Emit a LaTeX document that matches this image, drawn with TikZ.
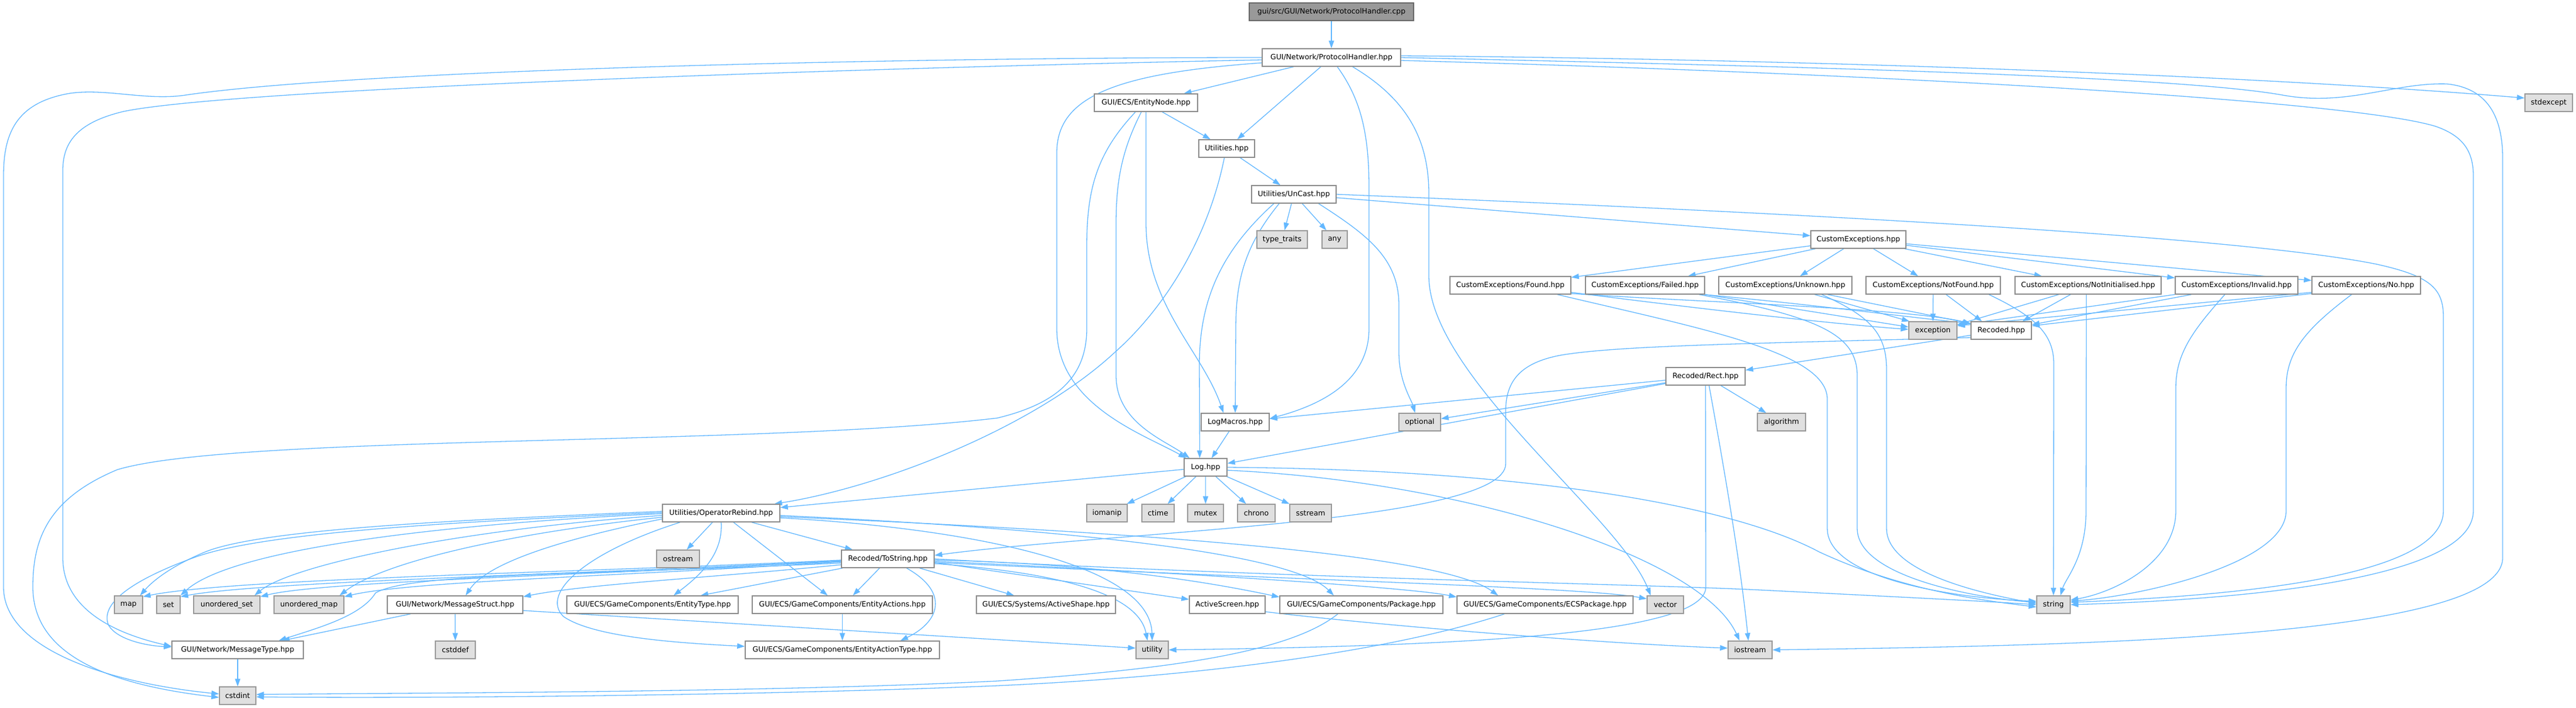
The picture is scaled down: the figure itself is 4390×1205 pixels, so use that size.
\documentclass[tikz,border=0pt]{standalone}
\usepackage{fontspec}
\setmainfont{DejaVu Sans}
\usetikzlibrary{arrows.meta}
\pgfdeclarelayer{bg}
\pgfdeclarelayer{edges}
\pgfsetlayers{bg,edges,main}
\definecolor{edgec}{HTML}{63B8FF}
\definecolor{boxb}{HTML}{8C8C8C}
\definecolor{extf}{HTML}{E0E0E0}
\definecolor{extb}{HTML}{999999}
\definecolor{rootf}{HTML}{999999}
\definecolor{rootb}{HTML}{666666}
\tikzset{
  nd/.style={rectangle, draw=boxb, line width=1.4pt, fill=white, minimum height=30pt, inner sep=0pt, font=\fontsize{12.4pt}{14pt}\selectfont, text=black},
  ext/.style={nd, fill=extf, draw=extb},
  root/.style={nd, fill=rootf, draw=rootb},
  dep/.style={draw=edgec, line width=1.3pt, -{Triangle[length=13pt,width=9pt]}},
}
\begin{document}
\begin{tikzpicture}[x=1pt,y=-1pt]
\begin{pgfonlayer}{bg}
\fill[white] (0,0) rectangle (4390,1205);
\end{pgfonlayer}
\useasboundingbox (0,0) rectangle (4390,1205);
% nodes
\node[root,minimum width=280pt] (cpp) at (2269,20) {gui/src/GUI/Network/ProtocolHandler.cpp};
\node[nd,minimum width=236pt] (ph) at (2269,98) {GUI/Network/ProtocolHandler.hpp};
\node[ext,minimum width=81pt] (stdexcept) at (4343.5,175) {stdexcept};
\node[nd,minimum width=176pt] (entitynode) at (1953,175) {GUI/ECS/EntityNode.hpp};
\node[nd,minimum width=95pt] (utilities) at (2090.5,253) {Utilities.hpp};
\node[nd,minimum width=144pt] (uncast) at (2205,331) {Utilities/UnCast.hpp};
\node[ext,minimum width=86pt] (typetraits) at (2185,408) {type\_traits};
\node[ext,minimum width=43pt] (any) at (2274.5,408) {any};
\node[nd,minimum width=162pt] (ce) at (3167,408) {CustomExceptions.hpp};
\node[nd,minimum width=206pt] (found) at (2574,486) {CustomExceptions/Found.hpp};
\node[nd,minimum width=203pt] (failed) at (2803.5,486) {CustomExceptions/Failed.hpp};
\node[nd,minimum width=227pt] (unknown) at (3042.5,486) {CustomExceptions/Unknown.hpp};
\node[nd,minimum width=229pt] (notfound) at (3294.5,486) {CustomExceptions/NotFound.hpp};
\node[nd,minimum width=249pt] (notinit) at (3558.5,486) {CustomExceptions/NotInitialised.hpp};
\node[nd,minimum width=209pt] (invalid) at (3811.5,486) {CustomExceptions/Invalid.hpp};
\node[nd,minimum width=185pt] (no) at (4032.5,486) {CustomExceptions/No.hpp};
\node[ext,minimum width=82pt] (exception) at (3294,563) {exception};
\node[nd,minimum width=103pt] (recoded) at (3410.5,563) {Recoded.hpp};
\node[nd,minimum width=135pt] (rect) at (2906.5,641) {Recoded/Rect.hpp};
\node[ext,minimum width=82pt] (algorithm) at (3036,719) {algorithm};
\node[nd,minimum width=116pt] (logmacros) at (2105,719) {LogMacros.hpp};
\node[ext,minimum width=71pt] (optional) at (2419.5,719) {optional};
\node[nd,minimum width=73pt] (log) at (2054.5,796) {Log.hpp};
\node[nd,minimum width=200pt] (oprebind) at (1229,874) {Utilities/OperatorRebind.hpp};
\node[ext,minimum width=73pt] (ostream) at (1155.5,952) {ostream};
\node[ext,minimum width=69pt] (iomanip) at (1886.5,874) {iomanip};
\node[ext,minimum width=55pt] (ctime) at (1973.5,874) {ctime};
\node[ext,minimum width=61pt] (mutex) at (2054.5,874) {mutex};
\node[ext,minimum width=64pt] (chrono) at (2141,874) {chrono};
\node[ext,minimum width=71pt] (sstream) at (2233.5,874) {sstream};
\node[nd,minimum width=158pt] (tostring) at (1513,952) {Recoded/ToString.hpp};
\node[ext,minimum width=48pt] (map) at (219,1030) {map};
\node[ext,minimum width=40pt] (set) at (287,1030) {set};
\node[ext,minimum width=113pt] (uset) at (386.5,1030) {unordered\_set};
\node[ext,minimum width=119pt] (umap) at (526.5,1030) {unordered\_map};
\node[nd,minimum width=231pt] (msgstruct) at (775.5,1030) {GUI/Network/MessageStruct.hpp};
\node[nd,minimum width=292pt] (entitytype) at (1112,1030) {GUI/ECS/GameComponents/EntityType.hpp};
\node[nd,minimum width=307pt] (entityactions) at (1435.5,1030) {GUI/ECS/GameComponents/EntityActions.hpp};
\node[nd,minimum width=237pt] (activeshape) at (1782.5,1030) {GUI/ECS/Systems/ActiveShape.hpp};
\node[nd,minimum width=129pt] (activescreen) at (2091.5,1030) {ActiveScreen.hpp};
\node[nd,minimum width=278pt] (package) at (2320,1030) {GUI/ECS/GameComponents/Package.hpp};
\node[nd,minimum width=300pt] (ecspackage) at (2633,1030) {GUI/ECS/GameComponents/ECSPackage.hpp};
\node[ext,minimum width=62pt] (vector) at (2838,1030) {vector};
\node[ext,minimum width=57pt] (string) at (3499.5,1030) {string};
\node[nd,minimum width=224pt] (msgtype) at (405,1107) {GUI/Network/MessageType.hpp};
\node[ext,minimum width=68pt] (cstddef) at (776,1107) {cstddef};
\node[nd,minimum width=331pt] (entityactiontype) at (1435.5,1107) {GUI/ECS/GameComponents/EntityActionType.hpp};
\node[ext,minimum width=55pt] (utility) at (1963.5,1107) {utility};
\node[ext,minimum width=75pt] (iostream) at (2982.5,1107) {iostream};
\node[ext,minimum width=62pt] (cstdint) at (405,1185) {cstdint};
% edges
\begin{pgfonlayer}{edges}
\draw[dep] (cpp) -- (ph);
% ProtocolHandler.hpp
\draw[dep] (ph) -- (entitynode);
\draw[dep] (ph) -- (utilities);
\draw[dep] ([yshift=-9pt]ph.west) .. controls (1900,125) and (1801,165) .. (1801,260) -- (1801,560) .. controls (1801,690) and (1950,740) .. ([xshift=4pt]log.north west);
\draw[dep] ([xshift=10pt]ph.south) .. controls (2320,170) and (2333,230) .. (2333,320) -- (2333,560) .. controls (2333,650) and (2250,690) .. ([yshift=6pt]logmacros.east);
\draw[dep] ([xshift=36pt]ph.south) .. controls (2400,170) and (2435,240) .. (2435,330) -- (2435,470) .. controls (2435,640) and (2760,880) .. ([xshift=-25pt]vector.north);
\draw[dep] ([yshift=3pt]ph.east) .. controls (3000,100) and (3800,125) .. ([yshift=8pt]stdexcept.west);
\draw[dep] (ph.east) .. controls (3000,112) and (3700,128) .. (3890,162) .. controls (4000,182) and (4080,140) .. (4170,143) .. controls (4240,150) and (4265,200) .. (4265,270) -- (4265,950) .. controls (4265,1090) and (3500,1100) .. (iostream.east);
\draw[dep] ([yshift=-5pt]ph.east) .. controls (3200,125) and (4000,170) .. (4150,215) .. controls (4200,232) and (4215,260) .. (4215,300) -- (4215,870) .. controls (4215,990) and (3800,1022) .. (string.east);
\draw[dep] ([yshift=-4pt]ph.west) .. controls (1500,115) and (400,150) .. (210,190) .. controls (135,208) and (107,240) .. (107,290) -- (107,950) .. controls (107,1040) and (200,1080) .. ([yshift=6pt]msgtype.west);
\draw[dep] (ph.west) .. controls (1500,98) and (600,120) .. (316,162) .. controls (250,172) and (180,150) .. (119,159) .. controls (25,175) and (6,230) .. (6,300) -- (6,1000) .. controls (6,1110) and (200,1165) .. ([yshift=3pt]cstdint.west);
% EntityNode
\draw[dep] (entitynode) -- (utilities);
\draw[dep] ([xshift=-18pt]entitynode.south) .. controls (1870,260) and (1852,320) .. (1852,420) -- (1852,560) .. controls (1852,650) and (1790,690) .. (1700,712) .. controls (1300,760) and (400,740) .. (200,800) .. controls (80,850) and (56,920) .. (56,1000) .. controls (56,1130) and (220,1170) .. ([yshift=-3pt]cstdint.west);
\draw[dep] ([xshift=-8pt]entitynode.south) .. controls (1915,250) and (1902,300) .. (1902,380) -- (1902,640) .. controls (1902,720) and (1985,750) .. ([xshift=10pt]log.north west);
\draw[dep] (entitynode.south) -- (1953,380) .. controls (1953,520) and (2050,600) .. ([xshift=-20pt]logmacros.north);
% Utilities
\draw[dep] (utilities) -- (uncast);
\draw[dep] ([xshift=-4pt]utilities.south) .. controls (2060,400) and (1990,520) .. (1900,600) .. controls (1760,730) and (1500,830) .. ([xshift=-10pt]oprebind.north east);
% UnCast
\draw[dep] (uncast) -- (typetraits);
\draw[dep] (uncast) -- (any);
\draw[dep] ([xshift=-25pt]uncast.south) .. controls (2120,420) and (2106,480) .. (2106,560) -- (logmacros.north);
\draw[dep] ([xshift=-34pt]uncast.south) .. controls (2090,420) and (2044,500) .. (2044,620) -- ([xshift=-10pt]log.north);
\draw[dep] ([xshift=42pt]uncast.south) .. controls (2330,400) and (2384,440) .. (2384,520) -- (2384,600) .. controls (2384,650) and (2405,680) .. ([xshift=-8pt]optional.north);
\draw[dep] (uncast) -- (ce);
\draw[dep] (uncast.east) .. controls (3000,360) and (3800,400) .. (4050,450) .. controls (4140,470) and (4164,490) .. (4164,540) -- (4164,870) .. controls (4164,985) and (3800,1015) .. ([yshift=4pt]string.east);
% CustomExceptions
\draw[dep] (ce) -- (found);
\draw[dep] (ce) -- (failed);
\draw[dep] (ce) -- (unknown);
\draw[dep] (ce) -- (notfound);
\draw[dep] (ce) -- (notinit);
\draw[dep] (ce) -- (invalid);
\draw[dep] (ce) -- (no);
% Found
\draw[dep] ([yshift=-12pt]found.east) .. controls (2850,520) and (3100,550) .. ([yshift=2pt]exception.west);
\draw[dep] ([yshift=-14pt]found.east) .. controls (2900,515) and (3250,525) .. ([yshift=12pt]recoded.west);
\draw[dep] ([xshift=80pt]found.south) .. controls (2900,560) and (3114,600) .. (3114,680) -- (3114,900) .. controls (3114,990) and (3350,1020) .. ([yshift=6pt]string.west);
% Failed
\draw[dep] (failed.south east) -- ([yshift=6pt]exception.west);
\draw[dep] ([xshift=-2pt]failed.south east) .. controls (3100,520) and (3250,540) .. ([yshift=12pt]recoded.west);
\draw[dep] ([xshift=92pt]failed.south) .. controls (3100,540) and (3165,570) .. (3165,640) -- (3165,900) .. controls (3165,985) and (3380,1020) .. ([yshift=4pt]string.west);
% Unknown
\draw[dep] ([xshift=50pt]unknown.south) -- ([xshift=-40pt]exception.north);
\draw[dep] ([xshift=72pt]unknown.south) -- ([yshift=12pt]recoded.west);
\draw[dep] ([xshift=62pt]unknown.south) .. controls (3190,540) and (3215,570) .. (3215,630) -- (3215,900) .. controls (3215,980) and (3400,1015) .. ([yshift=2pt]string.west);
% NotFound
\draw[dep] (notfound) -- (exception);
\draw[dep] ([xshift=22pt]notfound.south) -- ([xshift=-33pt]recoded.north);
\draw[dep] ([xshift=95pt]notfound.south) .. controls (3470,540) and (3500,570) .. (3500,620) -- (string.north);
% NotInitialised
\draw[dep] ([xshift=-50pt]notinit.south) -- ([yshift=10pt]exception.east);
\draw[dep] ([xshift=-30pt]notinit.south) -- ([xshift=36pt]recoded.north);
\draw[dep] ([xshift=-3pt]notinit.south) -- (3555,870) .. controls (3555,950) and (3520,985) .. ([xshift=12pt]string.north);
% Invalid
\draw[dep] (invalid.south west) -- ([yshift=9pt]exception.east);
\draw[dep] ([xshift=-77pt]invalid.south) -- ([yshift=10pt]recoded.east);
\draw[dep] ([xshift=-20pt]invalid.south) .. controls (3740,560) and (3708,600) .. (3708,660) -- (3708,870) .. controls (3708,960) and (3600,1010) .. ([yshift=8pt]string.east);
% No
\draw[dep] ([yshift=-12pt]no.west) -- ([yshift=8pt]exception.east);
\draw[dep] ([yshift=-14pt]no.west) -- ([yshift=8pt]recoded.east);
\draw[dep] ([xshift=-25pt]no.south) .. controls (3930,560) and (3896,600) .. (3896,660) -- (3896,870) .. controls (3896,960) and (3650,1015) .. ([yshift=6pt]string.east);
% Recoded
\draw[dep] (recoded) -- (rect);
\draw[dep] ([yshift=-12pt]recoded.west) .. controls (3000,585) and (2760,588) .. (2660,605) .. controls (2590,618) and (2566,650) .. (2566,700) -- (2566,790) .. controls (2566,890) and (1900,905) .. ([yshift=6pt]tostring.east);
% Rect
\draw[dep] (rect) -- (logmacros);
\draw[dep] (rect) -- (optional);
\draw[dep] (rect) -- (log);
\draw[dep] (rect) -- (algorithm);
\draw[dep] (rect.south) -- (2907,1000) .. controls (2907,1080) and (2500,1100) .. (utility.east);
\draw[dep] ([xshift=6pt]rect.south) .. controls (2935,780) and (2965,950) .. ([xshift=-3pt]iostream.north);
% LogMacros
\draw[dep] (logmacros) -- (log);
% Log
\draw[dep] (log) -- (oprebind);
\draw[dep] (log) -- (iomanip);
\draw[dep] (log) -- (ctime);
\draw[dep] (log) -- (mutex);
\draw[dep] (log) -- (chrono);
\draw[dep] (log) -- (sstream);
\draw[dep] (log.east) .. controls (2600,800) and (2950,860) .. (3100,940) .. controls (3250,1010) and (3400,1025) .. ([yshift=-4pt]string.west);
\draw[dep] ([yshift=-5pt]log.east) .. controls (2500,820) and (2900,950) .. ([xshift=-18pt]iostream.north);
% OperatorRebind
\draw[dep] (oprebind) -- (ostream);
\draw[dep] (oprebind.south) .. controls (1232,940) and (1200,975) .. ([xshift=36pt]entitytype.north);
\draw[dep] ([xshift=21pt]oprebind.south) -- ([xshift=-25pt]entityactions.north);
\draw[dep] ([xshift=52pt]oprebind.south) -- ([xshift=-60pt]tostring.north);
\draw[dep] ([yshift=-8pt]oprebind.east) .. controls (1650,900) and (1960,960) .. (utility.north);
\draw[dep] ([yshift=-4pt]oprebind.east) .. controls (1800,900) and (2200,940) .. ([xshift=-47pt]package.north);
\draw[dep] ([yshift=-6pt]oprebind.east) .. controls (1900,905) and (2450,940) .. ([xshift=-80pt]ecspackage.north);
\draw[dep] ([yshift=3pt]oprebind.west) .. controls (800,885) and (450,900) .. (350,940) .. controls (290,965) and (260,990) .. ([xshift=-5pt]map.north east);
\draw[dep] ([yshift=1pt]oprebind.west) .. controls (800,888) and (450,905) .. (330,950) .. controls (220,990) and (170,1030) .. (185,1065) .. controls (200,1090) and (250,1100) .. ([yshift=5pt]msgtype.west);
\draw[dep] ([yshift=-1pt]oprebind.west) .. controls (800,890) and (400,930) .. (set.north east);
\draw[dep] ([yshift=-4pt]oprebind.west) .. controls (800,900) and (500,960) .. ([xshift=-10pt]uset.north east);
\draw[dep] ([yshift=-7pt]oprebind.west) .. controls (850,910) and (650,960) .. ([xshift=-8pt]umap.north east);
\draw[dep] ([yshift=-10pt]oprebind.west) .. controls (950,920) and (830,960) .. ([xshift=18pt]msgstruct.north);
\draw[dep] ([xshift=-70pt]oprebind.south) .. controls (1000,940) and (920,1010) .. (960,1050) .. controls (1010,1085) and (1150,1095) .. ([yshift=6pt]entityactiontype.west);
% ToString
\draw[dep] ([yshift=-2pt]tostring.west) .. controls (1000,975) and (400,985) .. ([yshift=-2pt]map.north east);
\draw[dep] ([yshift=-3pt]tostring.west) .. controls (1000,978) and (450,990) .. ([yshift=-2pt]set.north east);
\draw[dep] ([yshift=-4pt]tostring.west) .. controls (1000,980) and (550,990) .. ([yshift=-2pt]uset.north east);
\draw[dep] ([yshift=-5pt]tostring.west) .. controls (1050,982) and (700,990) .. ([yshift=-2pt]umap.north east);
\draw[dep] ([yshift=-10pt]tostring.west) .. controls (1200,985) and (1000,995) .. ([yshift=-2pt]msgstruct.north east);
\draw[dep] ([yshift=-7pt]tostring.west) .. controls (1000,980) and (700,975) .. (640,1010) .. controls (615,1050) and (540,1070) .. ([xshift=70pt]msgtype.north);
\draw[dep] ([xshift=-77pt]tostring.south) -- ([xshift=82pt]entitytype.north);
\draw[dep] ([xshift=-14pt]tostring.south) -- ([xshift=18pt]entityactions.north);
\draw[dep] ([xshift=32pt]tostring.south) .. controls (1620,1010) and (1600,1060) .. ([xshift=99pt]entityactiontype.north);
\draw[dep] (tostring) -- (activeshape);
\draw[dep] ([yshift=-6pt]tostring.east) -- ([yshift=9pt]activescreen.west);
\draw[dep] ([yshift=-8pt]tostring.east) .. controls (1800,975) and (1940,1010) .. ([xshift=-8pt]utility.north);
\draw[dep] ([yshift=-2pt]tostring.east) .. controls (1900,960) and (2100,1000) .. ([yshift=13pt]package.west);
\draw[dep] ([yshift=-4pt]tostring.east) .. controls (2000,975) and (2400,1000) .. ([yshift=13pt]ecspackage.west);
\draw[dep] ([yshift=-6pt]tostring.east) .. controls (2200,988) and (2700,1000) .. ([yshift=10pt]vector.west);
\draw[dep] (tostring.east) .. controls (2200,985) and (2800,995) .. (3000,1005) .. controls (3200,1015) and (3400,1025) .. (string.west);
% MessageStruct
\draw[dep] (msgstruct) -- (msgtype);
\draw[dep] (msgstruct) -- (cstddef);
\draw[dep] ([yshift=-10pt]msgstruct.east) -- ([yshift=3pt]utility.west);
% others
\draw[dep] (entityactions) -- (entityactiontype);
\draw[dep] (msgtype) -- (cstdint);
\draw[dep] ([xshift=-40pt]package.south) .. controls (2200,1110) and (2000,1140) .. (1700,1160) .. controls (1300,1180) and (700,1180) .. ([yshift=2pt]cstdint.east);
\draw[dep] ([xshift=-69pt]ecspackage.south) .. controls (2400,1100) and (2100,1150) .. (1700,1168) .. controls (1300,1185) and (700,1190) .. ([yshift=-2pt]cstdint.east);
\draw[dep] ([yshift=-12pt]activescreen.east) .. controls (2300,1060) and (2700,1095) .. ([yshift=3pt]iostream.west);
\end{pgfonlayer}
\end{tikzpicture}
\end{document}
